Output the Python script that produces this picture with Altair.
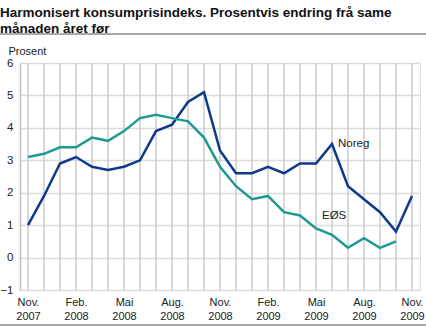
import altair as alt
import pandas as pd

months = [
    "Nov. 2007", "Des. 2007", "Jan. 2008", "Feb. 2008", "Mars 2008", "Apr. 2008",
    "Mai 2008", "Juni 2008", "Juli 2008", "Aug. 2008", "Sep. 2008", "Okt. 2008",
    "Nov. 2008", "Des. 2008", "Jan. 2009", "Feb. 2009", "Mars 2009", "Apr. 2009",
    "Mai 2009", "Juni 2009", "Juli 2009", "Aug. 2009", "Sep. 2009", "Okt. 2009",
    "Nov. 2009",
]
labelled_months = ["Nov. 2007", "Feb. 2008", "Mai 2008", "Aug. 2008", "Nov. 2008",
                   "Feb. 2009", "Mai 2009", "Aug. 2009", "Nov. 2009"]
noreg = [1.0, 1.9, 2.9, 3.1, 2.8, 2.7, 2.8, 3.0, 3.9, 4.1, 4.8, 5.1,
         3.3, 2.6, 2.6, 2.8, 2.6, 2.9, 2.9, 3.5, 2.2, 1.8, 1.4, 0.8, 1.9]
eos = [3.1, 3.2, 3.4, 3.4, 3.7, 3.6, 3.9, 4.3, 4.4, 4.3, 4.2, 3.7,
       2.8, 2.2, 1.8, 1.9, 1.4, 1.3, 0.9, 0.7, 0.3, 0.6, 0.3, 0.5]
series_names = ["Noreg", "EØS"]
series_colors = ["#0d3a8a", "#1f9a91"]
label_months = ["Juni 2009", "Mai 2009"]
label_values = [3.5, 1.28]
y_ticks = [-1, 0, 1, 2, 3, 4, 5, 6]

title_lines = ["Harmonisert konsumprisindeks. Prosentvis endring frå same",
               "månaden året før"]
y_title = "Prosent"

rows = []
for i, (m, v) in enumerate(zip(months, noreg)):
    rows.append({"idx": i, "month": m, "value": v, "series": "Noreg"})
for i, (m, v) in enumerate(zip(months, eos)):
    rows.append({"idx": i, "month": m, "value": v, "series": "EØS"})
df = pd.DataFrame(rows)
lab_df = pd.DataFrame({"idx": [months.index(m) for m in label_months],
                       "value": label_values, "series": series_names})
n = len(months)
grid_df = pd.DataFrame({"idx": list(range(n)), "lo": [y_ticks[0]] * n, "hi": [y_ticks[-1]] * n})

font = "Liberation Sans"
month_arr = "[" + ",".join("'" + m + "'" for m in months) + "]"
lab_list = "[" + ",".join("'" + m + "'" for m in labelled_months) + "]"

x_axis = alt.Axis(title=None, values=list(range(n)), grid=False,
                  domain=False, ticks=False, labelAngle=0, labelOverlap=False, labelFlush=False,
                  labelBound=False,
                  labelFont=font, labelFontSize=11, labelColor="#222",
                  labelPadding=6, labelLineHeight=14,
                  labelExpr=f"indexof({lab_list}, {month_arr}[datum.value]) >= 0 ? split({month_arr}[datum.value], ' ') : ''")
y_axis = alt.Axis(title=y_title, titleAngle=0, titleAlign="left", titleX=-12, titleY=-9,
                  titleBaseline="alphabetic", titleFont=font, titleFontSize=11,
                  titleFontWeight="normal", titleColor="#222",
                  values=y_ticks, grid=True, gridColor="#dcdcdc", gridWidth=1.5,
                  domain=True, domainColor="#bdbdbd", domainWidth=1.5, ticks=False, labelOverlap=False,
                  labelBound=False, labelFlush=False,
                  labelFont=font, labelFontSize=11.5, labelColor="#222", labelPadding=7)
x_scale = alt.Scale(domain=[-0.5, n - 0.5], nice=False, zero=False)
y_scale = alt.Scale(domain=[-1, 6], nice=False)

vgrid = alt.Chart(grid_df).mark_rule(color="#c2c2c2", strokeWidth=1.2).encode(
    x=alt.X("idx:Q", scale=x_scale, axis=x_axis),
    y=alt.Y("lo:Q", scale=y_scale, axis=y_axis),
    y2="hi:Q")

lines = alt.Chart(df).mark_line(strokeWidth=2.5).encode(
    x=alt.X("idx:Q", scale=x_scale, axis=x_axis),
    y=alt.Y("value:Q", scale=y_scale, axis=y_axis),
    color=alt.Color("series:N", scale=alt.Scale(domain=series_names, range=series_colors), legend=None),
)

labels = alt.Chart(lab_df).mark_text(align="left", dx=6, font=font, fontSize=11.5, color="#222").encode(
    x=alt.X("idx:Q", scale=x_scale, axis=x_axis),
    y=alt.Y("value:Q", scale=y_scale, axis=y_axis),
    text="series:N")

one = alt.Data(values=[{"a": 1}])
title = alt.Chart(one).mark_text(align="left", baseline="alphabetic", font=font, fontSize=13.5,
                                 fontWeight="bold", lineHeight=15.5, color="#111").encode(
    x=alt.value(-20), y=alt.value(-46), text=alt.value(title_lines))
top_rule = alt.Chart(one).mark_rule(color="#aaaaaa", strokeWidth=2).encode(
    x=alt.value(-20), x2=alt.value(406), y=alt.value(-29))
bottom_rule = alt.Chart(one).mark_rule(color="#aaaaaa", strokeWidth=2).encode(
    x=alt.value(-20), x2=alt.value(406), y=alt.value(262))

chart = alt.layer(vgrid, lines, labels, title, top_rule, bottom_rule).properties(
    width=400, height=227,
    autosize=alt.AutoSizeParams(type="none"),
    padding={"left": 20, "top": 63, "right": 6, "bottom": 38},
).configure_view(stroke=None).configure(background="white")

chart.save("out.html", embed_options={"renderer": "svg", "actions": False})
